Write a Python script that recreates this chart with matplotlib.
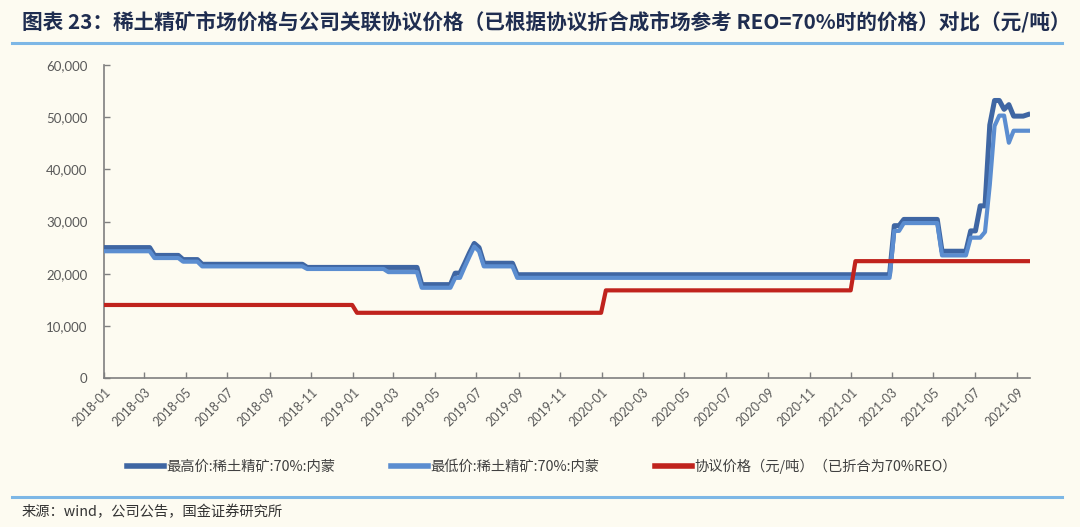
import matplotlib
matplotlib.use("Agg")
import matplotlib.pyplot as plt
import pandas as pd
from matplotlib.lines import Line2D

plt.rcParams['font.family'] = ['Noto Sans CJK SC', 'DejaVu Sans']

# ---------------- data ----------------
high_dates = ['2018-01-01', '2018-03-09', '2018-03-16', '2018-04-20', '2018-04-27', '2018-05-18',
              '2018-05-25', '2018-10-19', '2018-10-26', '2019-04-05', '2019-04-12', '2019-05-24',
              '2019-05-31', '2019-06-07', '2019-06-14', '2019-06-21', '2019-06-28', '2019-07-05',
              '2019-07-12', '2019-08-23', '2019-08-30', '2021-02-26', '2021-03-05', '2021-03-12',
              '2021-03-19', '2021-05-07', '2021-05-14', '2021-06-18', '2021-06-25', '2021-07-02',
              '2021-07-09', '2021-07-16', '2021-07-23', '2021-07-30', '2021-08-06', '2021-08-13',
              '2021-08-20', '2021-08-27', '2021-09-10', '2021-09-17']
high_vals = [25000, 25000, 23500, 23500, 22700, 22700,
             21800, 21800, 21200, 21200, 17900, 17900,
             20100, 20100, 22000, 24000, 25800, 25000,
             22000, 22000, 19800, 19800, 29200, 29200,
             30400, 30400, 24300, 24300, 28200, 28200,
             33000, 33000, 48500, 53200, 53200, 51500,
             52400, 50200, 50200, 50500]

low_dates = ['2018-01-01', '2018-03-09', '2018-03-16', '2018-04-20', '2018-04-27', '2018-05-18',
             '2018-05-25', '2018-10-19', '2018-10-26', '2019-02-15', '2019-02-22', '2019-04-05',
             '2019-04-12', '2019-05-24', '2019-05-31', '2019-06-07', '2019-06-14', '2019-06-21',
             '2019-06-28', '2019-07-05', '2019-07-12', '2019-08-23', '2019-08-30', '2021-02-26',
             '2021-03-05', '2021-03-12', '2021-03-19', '2021-05-07', '2021-05-14', '2021-06-18',
             '2021-06-25', '2021-07-09', '2021-07-16', '2021-07-23', '2021-07-30', '2021-08-06',
             '2021-08-13', '2021-08-20', '2021-08-27', '2021-09-17']
low_vals = [24300, 24300, 23000, 23000, 22300, 22300,
            21400, 21400, 20900, 20900, 20300, 20300,
            17300, 17300, 19200, 19200, 21300, 23300,
            25200, 24300, 21400, 21400, 19200, 19200,
            28200, 28200, 29700, 29700, 23500, 23500,
            26900, 26900, 28000, 37000, 48300, 50300,
            50300, 45100, 47400, 47400]

agree_dates = ['2018-01-01', '2018-12-31', '2019-01-07', '2019-12-31', '2020-01-07',
               '2020-12-31', '2021-01-07', '2021-09-17']
agree_vals = [14000, 14000, 12500, 12500, 16800, 16800, 22400, 22400]

series_names = ['最高价:稀土精矿:70%:内蒙', '最低价:稀土精矿:70%:内蒙', '协议价格（元/吨）（已折合为70%REO）']
tick_months = pd.date_range('2018-01-01', '2021-09-01', freq='2MS')
y_ticks = [0, 10000, 20000, 30000, 40000, 50000, 60000]

title = '图表 23：稀土精矿市场价格与公司关联协议价格（已根据协议折合成市场参考 REO=70%时的价格）对比（元/吨）'
source = '来源：wind，公司公告，国金证券研究所'

# ---------------- styling ----------------
bg = '#FDFBF1'
c_high = '#3F66A3'
c_low = '#5B8DD0'
c_red = '#C0231D'
gray = '#595959'

fig = plt.figure(figsize=(10.8, 5.27), dpi=100, facecolor=bg)
ax = fig.add_axes([104/1080, 1-378/527, (1030-104)/1080, (378-65)/527])
ax.set_facecolor(bg)

ax.plot(pd.to_datetime(high_dates), high_vals, color=c_high, lw=3.6, solid_joinstyle='round', zorder=3)
ax.plot(pd.to_datetime(low_dates), low_vals, color=c_low, lw=3.0, solid_joinstyle='round', zorder=4)
ax.plot(pd.to_datetime(agree_dates), agree_vals, color=c_red, lw=3.0, zorder=5)

ax.set_xlim(pd.Timestamp('2018-01-01'), pd.Timestamp('2021-09-20'))
ax.set_ylim(0, 60000)
ax.set_yticks(y_ticks)
ax.set_yticklabels([f'{v:,}' for v in y_ticks], family=['Lato', 'DejaVu Sans'], fontsize=9.5, color=gray)
ax.set_xticks(tick_months)
ax.set_xticklabels([d.strftime('%Y-%m') for d in tick_months], rotation=45, ha='right',
                   rotation_mode='anchor', family=['Lato', 'DejaVu Sans'], fontsize=9, color=gray)
ax.tick_params(axis='both', direction='in', length=4, color='#7F7F7F', width=1)
ax.tick_params(axis='y', pad=12)
ax.tick_params(axis='x', pad=6)
for s in ['top', 'right']:
    ax.spines[s].set_visible(False)
for s in ['left', 'bottom']:
    ax.spines[s].set_color('#7F7F7F')
    ax.spines[s].set_linewidth(1.2)

handles = [Line2D([], [], color=c_high, lw=4),
           Line2D([], [], color=c_low, lw=4),
           Line2D([], [], color=c_red, lw=4)]
leg = fig.legend(handles, series_names, loc='center left', bbox_to_anchor=(127/1080, 1-466/527),
                 ncol=3, frameon=False, handlelength=2.6, handletextpad=0.15, columnspacing=3.9,
                 prop={'size': 10.3}, borderaxespad=0, borderpad=0)
for t in leg.get_texts():
    t.set_color('#404040')

# title and separator lines
fig.text(22/1080, 1-22/527, title, fontsize=14.9, fontweight='bold', style='italic',
         color='#1F2D50', va='center', ha='left')
for yy in [42.5, 496.5]:
    fig.add_artist(Line2D([12/1080, 1062/1080], [1-yy/527, 1-yy/527], color='#7DB7E6', lw=2.2))
fig.text(22/1080, 1-512/527, source, fontsize=10.3, color='#333333', va='center', ha='left')

fig.savefig('out.png', dpi=100, facecolor=bg)
